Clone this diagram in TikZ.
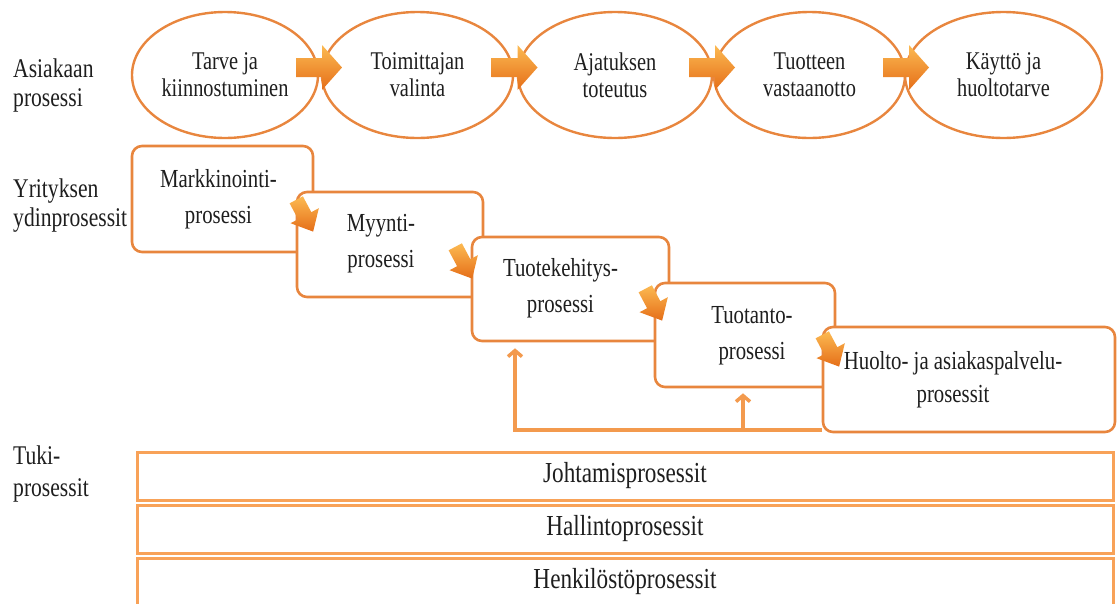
\documentclass[tikz,border=0pt]{standalone}
\usepackage{fontspec}
\setmainfont{Liberation Serif}[FakeStretch=0.8]
\usetikzlibrary{shapes.geometric,arrows.meta,calc}
\definecolor{edge}{HTML}{E8863E}
\definecolor{barline}{HTML}{F8A258}
\definecolor{flow}{HTML}{F39A4E}
\definecolor{shadetop}{HTML}{FCBA52}
\definecolor{shadebot}{HTML}{E56E18}
\definecolor{ink}{HTML}{1E1E1E}
\begin{document}
\begin{tikzpicture}[x=1pt,y=-1pt,
  every node/.style={text=ink, inner sep=0pt},
  stage/.style={ellipse, draw=edge, line width=2.4pt, minimum height=126pt,
    align=center, font=\fontsize{25.5}{27}\selectfont},
  procbox/.style={draw=edge, fill=white, line width=2.6pt, rounded corners=10pt},
  proctext/.style={align=center, font=\fontsize{26}{36}\selectfont},
  sidelabel/.style={anchor=west, align=left, font=\fontsize{27}{29}\selectfont},
  supportbar/.style={draw=barline, line width=3pt, minimum width=976pt,
    minimum height=48pt, font=\fontsize{29}{30}\selectfont},
  feedback/.style={draw=flow, line width=3.5pt},
  fbtip/.style={-{Straight Barb[length=6pt,width=14pt]}},
  pics/flowarrow/.style={code={
    \shade[top color=shadetop, bottom color=shadebot]
      (-23,-9.5) -- (3,-9.5) -- (3,-22.5) -- (23,0) -- (3,22.5) -- (3,9.5) -- (-23,9.5) -- cycle;}},
  pics/steparrow/.style={code={
    \shade[top color=shadetop, bottom color=shadebot]
      (-18,-7.5) -- (0,-7.5) -- (0,-16) -- (18,0) -- (0,16) -- (0,7.5) -- (-18,7.5) -- cycle;}}
]
\useasboundingbox (0,0) rectangle (1118,603);
\clip (0,0) rectangle (1118,603);

% row titles
\node[sidelabel] (lblCust) at (13,86) {Asiakaan\\prosessi};
\node[sidelabel] (lblCore) at (13,206) {Yrityksen\\ydinprosessit};
\node[sidelabel, font=\fontsize{27}{32}\selectfont] (lblSupp) at (13,474) {Tuki-\\prosessit};

% customer process stages
\node[stage, minimum width=186pt] (e1) at (225,75)    {Tarve ja\\kiinnostuminen};
\node[stage, minimum width=191pt] (e2) at (417.5,75)  {Toimittajan\\valinta};
\node[stage, minimum width=194pt] (e3) at (615,75)    {Ajatuksen\\toteutus};
\node[stage, minimum width=191pt] (e4) at (809.5,75)  {Tuotteen\\vastaanotto};
\node[stage, minimum width=197pt] (e5) at (1003.5,75) {Käyttö ja\\huoltotarve};

\pic at ($(e1.east)!0.5!(e2.west)+(-1,-7.5)$) {flowarrow};
\pic at ($(e2.east)!0.5!(e3.west)+(-1,-7.5)$) {flowarrow};
\pic at ($(e3.east)!0.5!(e4.west)+(-1,-7.5)$) {flowarrow};
\pic at ($(e4.east)!0.5!(e5.west)+(1,-7.5)$)  {flowarrow};

% core processes (staircase)
\node[procbox, minimum width=181pt, minimum height=106pt] (b1) at (222.5,199) {};
\node[procbox, minimum width=186pt, minimum height=105pt] (b2) at (390,244.5) {};
\node[procbox, minimum width=197pt, minimum height=104pt] (b3) at (570.5,289) {};
\node[procbox, minimum width=180pt, minimum height=104pt] (b4) at (745,335) {};
\node[procbox, minimum width=292pt, minimum height=105pt] (b5) at (969,379.5) {};

\node[proctext] (t1) at ($(b1.center)+(-4,0)$)  {Markkinointi-\\prosessi};
\node[proctext] (t2) at ($(b2.center)+(-9,-1)$) {Myynti-\\prosessi};
\node[proctext] (t3) at ($(b3.center)+(-10,-1)$) {Tuotekehitys-\\prosessi};
\node[proctext] (t4) at ($(b4.center)+(7,1)$)   {Tuotanto-\\prosessi};
\node[proctext, font=\fontsize{26}{33}\selectfont] (t5) at ($(b5.center)+(-16,0)$) {Huolto- ja asiakaspalvelu-\\prosessit};

\pic[rotate=-62] at ($(b2.north west)+(9,25)$)  {steparrow};
\pic[rotate=-62] at ($(b3.north west)+(-7,27)$) {steparrow};
\pic[rotate=-62] at ($(b4.north west)+(0,23)$)  {steparrow};
\pic[rotate=-62] at ($(b5.north west)+(9,25)$)  {steparrow};

% feedback from service back to development and production
\coordinate (fbStart)  at (822,430);
\coordinate (fbCorner) at (515,430);
\coordinate (fbMid)    at (743,430);
\draw[feedback, fbtip, shorten >=6pt] (fbStart) -- (fbCorner) -- (fbCorner |- b3.south);
\draw[feedback, fbtip, shorten >=5pt] (fbMid) -- (fbMid |- b4.south);

% support processes
\node[supportbar] (s1) at (625,476) {Johtamisprosessit};
\node[supportbar] (s2) at (625,529) {Hallintoprosessit};
\node[supportbar] (s3) at (625,582) {Henkilöstöprosessit};
\end{tikzpicture}
\end{document}
